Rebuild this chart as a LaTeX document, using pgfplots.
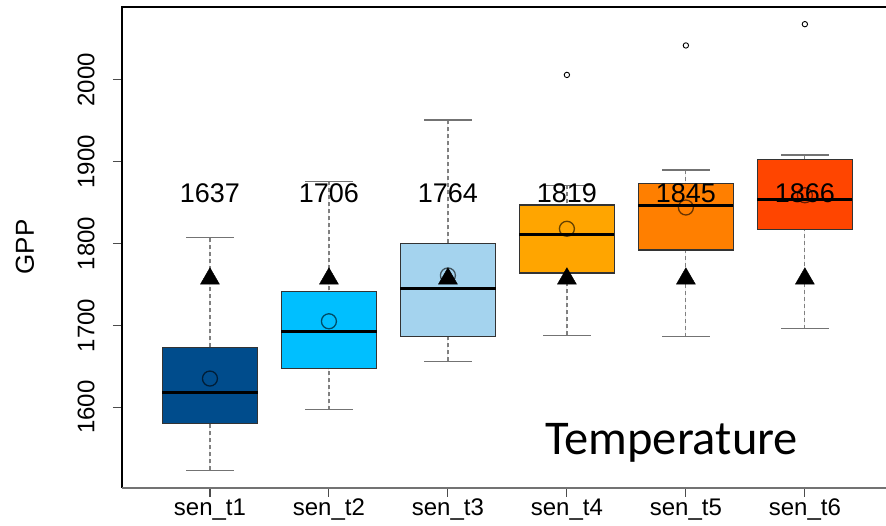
\documentclass[border=0pt]{standalone}
\usepackage{pgfplots}
\pgfplotsset{compat=1.18}
\usepgfplotslibrary{statistics}
\usepackage{fontspec}
\setmainfont{Liberation Sans}
\newfontfamily\calibri{Carlito}
\definecolor{c1}{RGB}{0,76,140}
\definecolor{c2}{RGB}{0,191,255}
\definecolor{c3}{RGB}{164,211,238}
\definecolor{c4}{RGB}{255,165,0}
\definecolor{c5}{RGB}{255,127,0}
\definecolor{c6}{RGB}{255,69,0}
\pgfplotsset{
  rbox/.style={
    draw=black!80, line width=1.2bp,
    boxplot/draw direction=y,
    boxplot/box extend=0.8,
    boxplot/whisker extend=0.4,
    boxplot/draw/lower whisker/.code={%
      \draw[gray, dash pattern=on 4bp off 3bp, line width=1.2bp]
        (boxplot cs:\pgfplotsboxplotvalue{lower whisker}) --
        (boxplot cs:\pgfplotsboxplotvalue{lower quartile});
      \draw[black!55, line width=1.3bp]
        (boxplot whisker cs:\pgfplotsboxplotvalue{lower whisker},0) --
        (boxplot whisker cs:\pgfplotsboxplotvalue{lower whisker},1);
    },
    boxplot/draw/upper whisker/.code={%
      \draw[gray, dash pattern=on 4bp off 3bp, line width=1.2bp]
        (boxplot cs:\pgfplotsboxplotvalue{upper whisker}) --
        (boxplot cs:\pgfplotsboxplotvalue{upper quartile});
      \draw[black!55, line width=1.3bp]
        (boxplot whisker cs:\pgfplotsboxplotvalue{upper whisker},0) --
        (boxplot whisker cs:\pgfplotsboxplotvalue{upper whisker},1);
    },
    boxplot/draw/median/.code={%
      \draw[black, line width=3bp]
        (boxplot box cs:\pgfplotsboxplotvalue{median},0) --
        (boxplot box cs:\pgfplotsboxplotvalue{median},1);
    },
  }
}
\begin{document}
\begin{tikzpicture}[x=1bp,y=1bp]
\useasboundingbox (0,0) rectangle (886,526);
\begin{axis}[
  at={(121.9bp,38bp)}, anchor=south west,
  scale only axis, width=771bp, height=481bp,
  xmin=0.26, xmax=6.74, ymin=1501.3, ymax=2089,
  clip=false,
  axis line style={draw=none},
  xtick={1,2,3,4,5,6},
  xticklabels={sen\_t1,sen\_t2,sen\_t3,sen\_t4,sen\_t5,sen\_t6},
  ytick={1600,1700,1800,1900,2000},
  xtick pos=left, ytick pos=left,
  tick align=outside,
  major tick length=9bp,
  tick style={black!70, line width=1.1bp},
  /pgf/number format/assume math mode=true,
  /pgf/number format/1000 sep={},
  tick label style={font=\fontsize{24bp}{28bp}\selectfont},
  xticklabel style={anchor=base, yshift=-19bp, inner sep=0pt},
  yticklabel style={xshift=-18bp, rotate=90, anchor=south, inner sep=0pt},
]
\addplot[rbox, fill=c1, boxplot prepared={draw position=1, lower whisker=1523, lower quartile=1580, median=1618, upper quartile=1673, upper whisker=1807}] coordinates {};
\addplot[rbox, fill=c2, boxplot prepared={draw position=2, lower whisker=1597, lower quartile=1647, median=1693, upper quartile=1741, upper whisker=1876}] coordinates {};
\addplot[rbox, fill=c3, boxplot prepared={draw position=3, lower whisker=1656, lower quartile=1686, median=1745, upper quartile=1800, upper whisker=1951}] coordinates {};
\addplot[rbox, fill=c4, boxplot prepared={draw position=4, lower whisker=1688, lower quartile=1764, median=1811, upper quartile=1847, upper whisker=1871}] coordinates {};
\addplot[rbox, fill=c5, boxplot prepared={draw position=5, lower whisker=1686, lower quartile=1792, median=1846, upper quartile=1873, upper whisker=1890}] coordinates {};
\addplot[rbox, fill=c6, boxplot prepared={draw position=6, lower whisker=1696, lower quartile=1817, median=1854, upper quartile=1903, upper whisker=1908}] coordinates {};
% outliers
\addplot[only marks, mark=o, mark size=2.7bp, black, line width=0.9bp] coordinates {(4,2006) (5,2042) (6,2068)};
% means
\addplot[only marks, mark=o, mark size=7.5bp, mark options={draw=black, draw opacity=0.6, line width=1.3bp}] coordinates {(1,1635) (2,1705) (3,1761) (4,1818) (5,1844) (6,1859)};
% observed
\addplot[only marks, mark=triangle*, mark size=11bp, black] coordinates {(1,1757) (2,1757) (3,1757) (4,1757) (5,1757) (6,1757)};
% labels
\foreach \xx/\lab in {1/1637,2/1706,3/1764,4/1819,5/1845,6/1866}{
  \edef\tmp{\noexpand\node[anchor=base, inner sep=0pt, font=\noexpand\fontsize{27bp}{30bp}\noexpand\selectfont] at (axis cs:\xx,1850) {\lab};}
  \tmp
}
\draw[black, line width=1.2bp] (rel axis cs:0,0) -- (rel axis cs:0,1) -- (rel axis cs:1,1);
\draw[black!55, line width=1.2bp] (rel axis cs:0,0) -- (rel axis cs:1,0);
\end{axis}
\node[rotate=90, font=\fontsize{26bp}{30bp}\selectfont] at (25bp,279bp) {GPP};
\node[anchor=base west, inner sep=0pt, font=\calibri\fontsize{48.5bp}{52bp}\selectfont] at (545bp,71bp) {Temperature};
\end{tikzpicture}
\end{document}
